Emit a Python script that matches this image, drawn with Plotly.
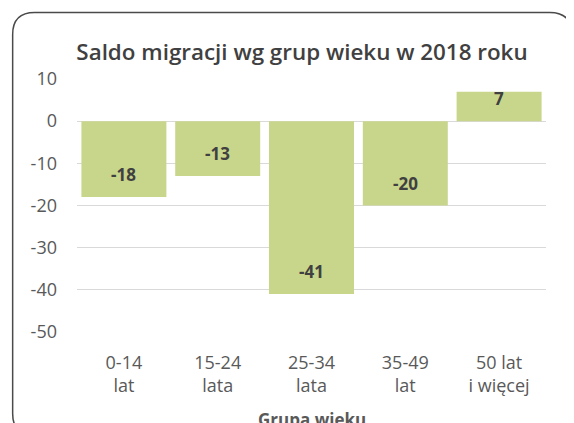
import plotly.graph_objects as go

categories = ["0-14<br>lat", "15-24<br>lata", "25-34<br>lata", "35-49<br>lat", "50 lat<br>i więcej"]
values = [-18, -13, -41, -20, 7]
y_ticks = [10, 0, -10, -20, -30, -40, -50]
y_ticktext = ["10", "0", "-10", "-20", "-30", "-40", "-50"]
x_title = "Grupa wieku"

# page body has an 8px margin, so the figure is sized to fill the rest
OFF = 8
W, H = 574 - OFF, 423 - OFF
ML, MR, MT, MB = 69, 28.3, 71.3, 90.5
PW, PH = W - ML - MR, H - MT - MB

def px(x):
    return (x - ML) / PW

def py(y):
    return (H - MB - y) / PH

fig = go.Figure()
fig.add_trace(go.Bar(
    x=categories, y=values,
    marker=dict(color="#c8d68b", line=dict(width=0)),
    hoverinfo="x+y",
))

for c, v in zip(categories, values):
    fig.add_annotation(
        x=c, y=v, xref="x", yref="y",
        text=f"<b>{v}</b>", showarrow=False,
        yshift=22.5 if v < 0 else -7,
        font=dict(family="Open Sans", size=17, color="#404040"),
    )

# x-axis title (placed below the tick labels, partly cut by the page edge as in the original)
fig.add_annotation(
    x=0.5, y=py(412), xref="paper", yref="paper",
    xanchor="center", yanchor="middle",
    text=f"<b>{x_title}</b>", showarrow=False,
    font=dict(family="Open Sans", size=17, color="#595959"),
)

# rounded frame
x0, x1, y0, y1, r = 4.7, 563.5, 4.7, 428, 22
path = (
    f"M {px(x0 + r)},{py(y0)} L {px(x1 - r)},{py(y0)} "
    f"Q {px(x1)},{py(y0)} {px(x1)},{py(y0 + r)} "
    f"L {px(x1)},{py(y1 - r)} Q {px(x1)},{py(y1)} {px(x1 - r)},{py(y1)} "
    f"L {px(x0 + r)},{py(y1)} Q {px(x0)},{py(y1)} {px(x0)},{py(y1 - r)} "
    f"L {px(x0)},{py(y0 + r)} Q {px(x0)},{py(y0)} {px(x0 + r)},{py(y0)} Z"
)
fig.add_shape(type="path", path=path, xref="paper", yref="paper",
              line=dict(color="#4a4a4a", width=1.5), layer="above")

fig.update_layout(
    width=W, height=H,
    margin=dict(l=ML, r=MR, t=MT, b=MB, pad=0, autoexpand=False),
    paper_bgcolor="white", plot_bgcolor="white",
    bargap=0.094,
    showlegend=False,
    font=dict(family="Open Sans", color="#595959"),
    title=dict(
        text="Saldo migracji wg grup wieku w 2018 roku",
        xref="container", yref="container",
        x=294 / W, xanchor="center", y=1 - 44 / H, yanchor="middle",
        font=dict(family="Open Sans", size=22.4, color="#404040", weight=600),
    ),
    xaxis=dict(
        automargin=False,
        showgrid=False, zeroline=False, showline=False, ticks="",
        tickfont=dict(size=18, color="#595959"),
        ticklabelstandoff=18,
    ),
    yaxis=dict(
        automargin=False,
        range=[-50, 10], tickvals=y_ticks, ticktext=y_ticktext,
        showgrid=True, gridcolor="#d9d9d9", gridwidth=1,
        zeroline=True, zerolinecolor="#d9d9d9", zerolinewidth=1,
        showline=False, ticks="",
        tickfont=dict(size=18, color="#595959"),
        ticklabelstandoff=19,
    ),
)

fig.write_html("out.html")
